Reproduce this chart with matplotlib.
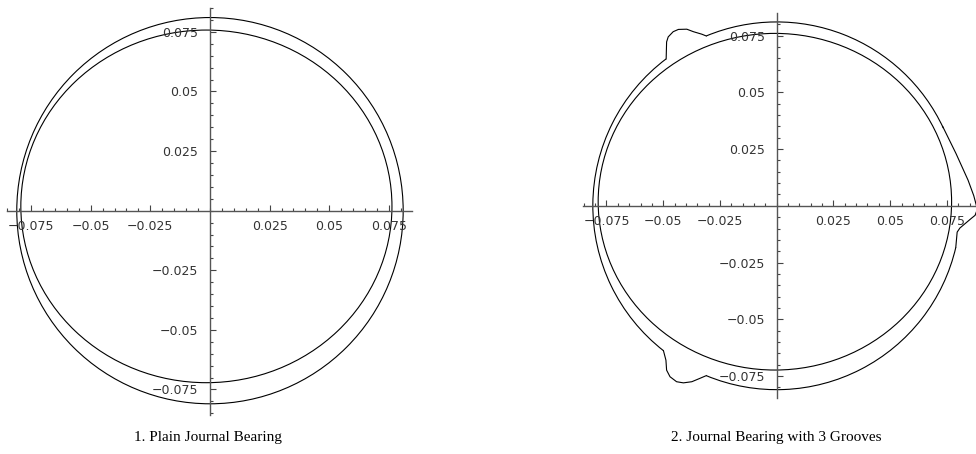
import matplotlib
matplotlib.use('Agg')
import matplotlib.pyplot as plt
from matplotlib.patches import Arc, Circle, Ellipse
from matplotlib.ticker import FixedLocator, FixedFormatter, MultipleLocator

# tick marks shared by both plots
tick_values = [-0.075, -0.05, -0.025, 0.025, 0.05, 0.075]
tick_labels = ['\u22120.075', '\u22120.05', '\u22120.025', '0.025', '0.05', '0.075']

# plain bearing: bore circle and journal outline
plain_bore_center = (0.0, 0.0)
plain_bore_radius = 0.081
plain_journal_center = (-0.0015, 0.0018)
plain_journal_size = (0.1556, 0.1479)   # width, height

# grooved bearing: journal outline
groove_journal_center = (-0.0008, 0.0018)
groove_journal_size = (0.1557, 0.1483)

# grooved bearing bore: circular arcs between the grooves (degrees)
groove_bore_radius = 0.081
groove_bore_arcs = [(25.0, 112.5), (127.0, 232.0), (247.5, 347.0)]

# groove profiles traced along the bore
groove_top_x = [-0.0310, -0.0330, -0.0367, -0.0396, -0.0433, -0.0456, -0.0478, -0.0485, -0.0487]
groove_top_y = [0.0748, 0.0756, 0.0767, 0.0778, 0.0777, 0.0767, 0.0744, 0.0722, 0.0647]

groove_bottom_x = [-0.0499, -0.0488, -0.0485, -0.0470, -0.0441, -0.0411, -0.0374, -0.0338, -0.0310]
groove_bottom_y = [-0.0638, -0.0680, -0.0724, -0.0753, -0.0775, -0.0780, -0.0775, -0.0760, -0.0748]

groove_right_x = [0.0731, 0.0790, 0.0843, 0.0868, 0.0884, 0.0874, 0.0859, 0.0807, 0.0795, 0.0789]
groove_right_y = [0.0350, 0.0230, 0.0113, 0.0045, -0.0015, -0.0042, -0.0054, -0.0098, -0.0116, -0.0182]

captions = ['1. Plain Journal Bearing', '2. Journal Bearing with 3 Grooves']

fig = plt.figure(figsize=(9.76, 4.54), dpi=100)


def bearing_axes(rect, xlim, ylim):
    ax = fig.add_axes(rect)
    ax.set_xlim(*xlim)
    ax.set_ylim(*ylim)
    ax.patch.set_visible(False)
    for side in ['top', 'right']:
        ax.spines[side].set_visible(False)
    for side in ['left', 'bottom']:
        ax.spines[side].set_position(('data', 0))
        ax.spines[side].set_color('#555555')
        ax.spines[side].set_linewidth(1.0)
    for axis in [ax.xaxis, ax.yaxis]:
        axis.set_major_locator(FixedLocator(tick_values))
        axis.set_major_formatter(FixedFormatter(tick_labels))
        axis.set_minor_locator(MultipleLocator(0.005))
    ax.tick_params(which='both', direction='in', color='#444444', width=0.8,
                   labelcolor='#333333', labelsize=9)
    ax.tick_params(which='major', length=4)
    ax.tick_params(which='minor', length=2.2)
    ax.tick_params(axis='x', pad=6.5)
    ax.tick_params(axis='y', pad=8.5)
    return ax


line_kw = dict(color='black', linewidth=0.8, fill=False)

# 1. plain journal bearing
ax1 = bearing_axes([7 / 976, 39 / 454, 405 / 976, 407 / 454],
                   (-0.0851, 0.0847), (-0.0857, 0.0850))
ax1.add_patch(Circle(plain_bore_center, plain_bore_radius, **line_kw))
ax1.add_patch(Ellipse(plain_journal_center, *plain_journal_size, **line_kw))

# 2. journal bearing with 3 grooves
ax2 = bearing_axes([583.3 / 976, 55.7 / 454, 392.7 / 976, 385 / 454],
                   (-0.0852, 0.0878), (-0.0848, 0.0848))
ax2.add_patch(Ellipse(groove_journal_center, *groove_journal_size, **line_kw))
for t1, t2 in groove_bore_arcs:
    ax2.add_patch(Arc((0, 0), 2 * groove_bore_radius, 2 * groove_bore_radius,
                      theta1=t1, theta2=t2, color='black', linewidth=0.8))
for gx, gy in [(groove_top_x, groove_top_y),
               (groove_bottom_x, groove_bottom_y),
               (groove_right_x, groove_right_y)]:
    ax2.plot(gx, gy, color='black', linewidth=0.8)

fig.text(208 / 976, 1 - 437 / 454, captions[0], ha='center', va='center',
         family='Liberation Serif', fontsize=11)
fig.text(776 / 976, 1 - 437 / 454, captions[1], ha='center', va='center',
         family='Liberation Serif', fontsize=11)

fig.savefig('out.png', dpi=100)
